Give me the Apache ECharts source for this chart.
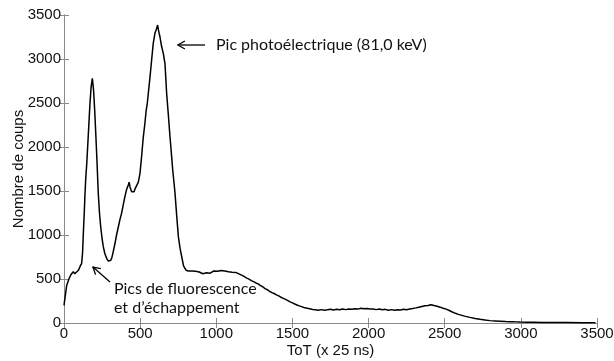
<!DOCTYPE html>
<html><head><meta charset="utf-8">
<script src="https://cdn.jsdelivr.net/npm/echarts@6/dist/echarts.min.js"></script>
<style>html,body{margin:0;padding:0;background:#fff}#c{width:614px;height:361px}</style>
</head><body><div id="c"></div>
<script>
// ToT (x 25 ns) channel values
const tot = [0,10,18,30,39,50,61,70,83,95,105,116,122,127,133,138,143,149,160,170,178,186,194,202,210,217,225,233,241,250,258,268,280,290,298,305,313,322,335,345,357,368,378,390,400,410,422,428,433,444,452,460,468,477,488,499,510,520,530,540,547,556,565,575,586,597,605,610,615,620,625,630,640,652,658,663,668,674,685,696,705,714,722,729,740,751,762,773,785,801,815,827,
840,852,864,876,888,900,912,924,936,948,960,972,984,996,1008,1020,1032,1044,1056,1068,1080,1092,1104,1116,1128,1140,1152,1164,1176,1188,1200,
1215,1230,1245,1260,1275,1290,1305,1320,1335,1350,1365,1380,1395,1410,1425,1440,1455,1470,1485,1500,1515,1530,1545,1560,1575,1590,1605,1620,1635,1650,
1670,1690,1710,1730,1750,1770,1790,1810,1830,1850,1870,1890,1910,1930,1950,1970,1990,2010,2030,2050,2070,2090,2110,2130,2150,2170,2190,2210,2230,2250,2270,2290,
2310,2330,2350,2370,2390,2410,2430,2450,2470,2490,2510,2530,2550,2570,2590,
2600,2630,2666,2700,2732,2765,2797,2830,2863,2900,2929,2960,2994,3040,3082,3140,3190,3250,3300,3400,3490];
// Nombre de coups
const counts = [200,330,430,490,526,560,583,560,545,600,640,678,800,1019,1250,1474,1650,1800,2150,2480,2680,2780,2650,2400,2100,1820,1474,1250,1094,960,867,790,735,705,697,710,735,800,906,1000,1094,1180,1246,1350,1436,1510,1568,1600,1549,1492,1500,1492,1530,1511,1600,1701,1900,2100,2250,2420,2497,2650,2799,2980,3178,3292,3330,3310,3386,3330,3290,3253,3150,3064,3000,2951,2800,2610,2370,2117,1930,1739,1600,1474,1220,981,850,753,650,602,590,602,
590,575,588,566,580,572,560,578,570,585,566,580,592,575,588,578,596,580,590,600,582,595,578,590,575,572,556,548,535,522,510,
498,482,470,455,445,425,412,390,378,360,345,335,320,308,292,280,268,255,240,228,216,205,195,186,176,170,165,160,152,150,
146,152,145,150,156,148,155,150,158,152,160,155,162,158,168,162,165,158,160,152,158,150,155,146,152,145,150,148,155,150,160,165,
172,180,188,195,200,208,198,190,180,168,158,142,125,110,98,
91,78,64,52,42,34,27,24,21,17,15,13,11,9,8,7,6,5,5,4,3];
const xTicks = {min: 0, max: 3500, interval: 500};
const yTicks = {min: 0, max: 3500, interval: 500};
const xTitle = 'ToT (x 25 ns)';
const yTitle = 'Nombre de coups';
const note1 = 'Pic photoélectrique (81,0 keV)';
const note2 = ['Pics de fluorescence', 'et d\u2019échappement'];

const chart = echarts.init(document.getElementById('c'), null, {renderer: 'canvas'});
const axisColor = '#8a8a8a';
const font = '"Liberation Sans", Arial, sans-serif';
function ax(extra) {
  return Object.assign({
    type: 'value',
    axisLine: {show: true, lineStyle: {color: axisColor, width: 1}},
    axisTick: {show: true, inside: true, length: 5, lineStyle: {color: axisColor}},
    splitLine: {show: false},
    nameMoveOverlap: false,
    axisLabel: {color: '#111', fontFamily: font, fontSize: 15, margin: 3, formatter: v => String(v)}
  }, extra);
}
chart.setOption({
  animation: false,
  backgroundColor: '#fff',
  grid: {left: 64, right: 17, top: 15, bottom: 38, containLabel: false, outerBoundsMode: 'none'},
  xAxis: [
    ax({min: xTicks.min, max: xTicks.max, interval: xTicks.interval, position: 'bottom',
        name: xTitle, nameLocation: 'middle', nameGap: 20,
        nameTextStyle: {color: '#111', fontFamily: font, fontSize: 15}}),
    ax({min: xTicks.min, max: xTicks.max, interval: xTicks.interval, position: 'top', axisLabel: {show: false}})
  ],
  yAxis: [
    ax({min: yTicks.min, max: yTicks.max, interval: yTicks.interval, position: 'left',
        name: yTitle, nameLocation: 'middle', nameGap: 38,
        nameTextStyle: {color: '#111', fontFamily: font, fontSize: 15}}),
    ax({min: yTicks.min, max: yTicks.max, interval: yTicks.interval, position: 'right', axisLabel: {show: false}})
  ],
  series: [{
    type: 'line', xAxisIndex: 0, yAxisIndex: 0,
    data: tot.map((t, i) => [t, counts[i]]),
    showSymbol: false, smooth: false,
    lineStyle: {color: '#000', width: 1.5},
    silent: true
  }]
});

function px(x, y) { return chart.convertToPixel({xAxisIndex: 0, yAxisIndex: 0}, [x, y]); }
const noteFont = '16px Lato, "Open Sans", sans-serif';
const a1tip = px(748, 3159), a1tail = px(926, 3159), t1 = px(998, 3159);
const a2tip = px(190, 636), a2tail = px(302, 466);
const t2a = px(328, 386), t2b = px(328, 170);
function arrow(tip, tail) {
  const dx = tail[0] - tip[0], dy = tail[1] - tip[1];
  const L = Math.hypot(dx, dy), ux = dx / L, uy = dy / L;
  const h = 7, w = 4;
  const p1 = [tip[0] + ux * h - uy * w, tip[1] + uy * h + ux * w];
  const p2 = [tip[0] + ux * h + uy * w, tip[1] + uy * h - ux * w];
  return [
    {type: 'line', shape: {x1: tip[0], y1: tip[1], x2: tail[0], y2: tail[1]}, style: {stroke: '#000', lineWidth: 1.3}},
    {type: 'polyline', shape: {points: [p1, tip, p2]}, style: {stroke: '#000', lineWidth: 1.3, fill: null}}
  ];
}
chart.setOption({
  graphic: [].concat(
    arrow(a1tip, a1tail),
    arrow(a2tip, a2tail),
    [
      {type: 'text', x: t1[0], y: t1[1], style: {text: note1, font: noteFont, fill: '#111', verticalAlign: 'middle'}},
      {type: 'text', x: t2a[0], y: t2a[1], style: {text: note2[0], font: noteFont, fill: '#111', verticalAlign: 'middle'}},
      {type: 'text', x: t2b[0], y: t2b[1], style: {text: note2[1], font: noteFont, fill: '#111', verticalAlign: 'middle'}}
    ]
  )
});
</script></body></html>
